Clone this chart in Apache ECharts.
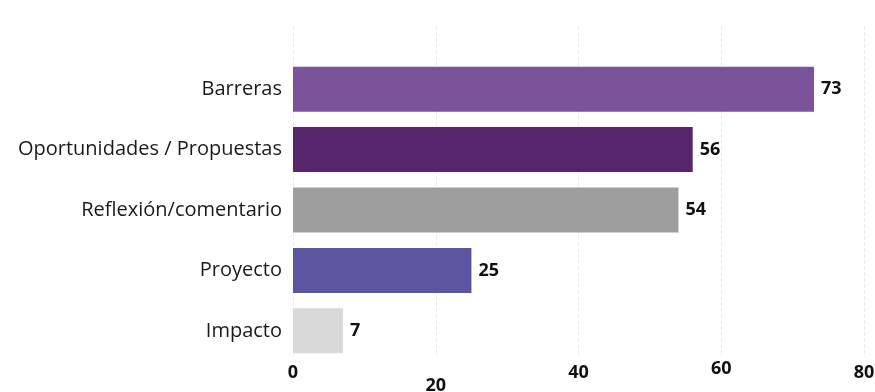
<!DOCTYPE html>
<html>
<head>
<meta charset="utf-8">
<script src="https://cdn.jsdelivr.net/npm/echarts@6/dist/echarts.min.js"></script>
<style>
  html, body { margin: 0; padding: 0; background: #fff; }
  #main { width: 875px; height: 392px; }
</style>
</head>
<body>
<div id="main"></div>
<script>
// datos del gráfico
var categorias = ['Barreras', 'Oportunidades / Propuestas', 'Reflexión/comentario', 'Proyecto', 'Impacto'];
var valores = [73, 56, 54, 25, 7];
var colores = ['#7b539b', '#56256b', '#9e9e9e', '#5b55a0', '#d9d9d9'];
var ticksX = [0, 20, 40, 60, 80];

var fuente = 'Open Sans';

// las etiquetas del eje x no están alineadas en el original
function estiloTick(v) {
    if (v === 20) return 'bajo';
    if (v === 60) return 'alto';
    return 'medio';
}

var tickBase = { fontFamily: fuente, fontSize: 18, fontWeight: 'bold', color: '#111' };

var chart = echarts.init(document.getElementById('main'));
chart.setOption({
    animation: false,
    backgroundColor: '#fff',
    grid: [
        { left: 293, right: 11, top: 59, bottom: 31, outerBoundsMode: 'none' },
        // solo para las líneas verticales, que suben más arriba
        { left: 293, right: 11, top: 26, bottom: 35, outerBoundsMode: 'none' }
    ],
    xAxis: [
        {
            type: 'value',
            gridIndex: 0,
            min: ticksX[0],
            max: ticksX[ticksX.length - 1],
            interval: 20,
            axisLine: { show: false },
            axisTick: { show: false },
            splitLine: { show: false },
            axisLabel: {
                margin: -1,
                formatter: function (v) {
                    return '{' + estiloTick(v) + '|' + v + '}';
                },
                rich: {
                    medio: Object.assign({ padding: [4, 0, 0, 0] }, tickBase),
                    bajo: Object.assign({ padding: [17, 0, 0, 0] }, tickBase),
                    alto: Object.assign({ padding: [0, 0, 0, 0] }, tickBase)
                }
            }
        },
        {
            type: 'value',
            gridIndex: 1,
            min: ticksX[0],
            max: ticksX[ticksX.length - 1],
            interval: 20,
            axisLine: { show: false },
            axisTick: { show: false },
            axisLabel: { show: false },
            splitLine: { show: true, lineStyle: { color: '#ececec', width: 1, type: 'dashed' } }
        }
    ],
    yAxis: [
        {
            type: 'category',
            gridIndex: 0,
            inverse: true,
            data: categorias,
            axisLine: { show: false },
            axisTick: { show: false },
            axisLabel: {
                margin: 11,
                fontFamily: fuente,
                fontSize: 20,
                color: '#1a1a1a'
            }
        },
        {
            type: 'value',
            gridIndex: 1,
            show: false
        }
    ],
    series: [{
        type: 'bar',
        xAxisIndex: 0,
        yAxisIndex: 0,
        barWidth: 45,
        data: valores.map(function (v, i) {
            return { value: v, itemStyle: { color: colores[i] } };
        }),
        label: {
            show: true,
            position: 'right',
            distance: 7,
            fontFamily: fuente,
            fontSize: 18,
            fontWeight: 'bold',
            color: '#111'
        }
    }]
});
</script>
</body>
</html>
